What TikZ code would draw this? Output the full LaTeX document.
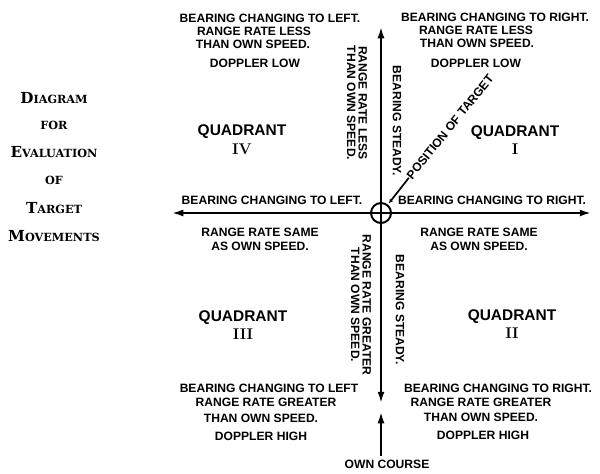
\documentclass[tikz,border=0pt]{standalone}
\usepackage{fontspec}
\usetikzlibrary{arrows.meta}
\newfontfamily\lblfont{Liberation Sans}
\newfontfamily\headfont{DejaVu Serif}
\newcommand{\initcap}[2]{{\fontsize{10.8}{12}\selectfont #1}{\fontsize{8}{12}\selectfont #2}}
\tikzset{
	lbl/.style={font=\lblfont\bfseries\fontsize{8.6}{9.25}\selectfont, align=center, inner sep=0pt},
	vlbl/.style={lbl, rotate=-90, font=\lblfont\bfseries\fontsize{8.6}{8.2}\selectfont},
	quad/.style={font=\lblfont\bfseries\fontsize{11}{12}\selectfont, inner sep=0pt},
	numeral/.style={font=\bfseries\fontsize{11}{12}\selectfont, inner sep=0pt},
	heading/.style={font=\headfont\bfseries, inner sep=0pt},
	axis/.style={line width=1.4pt, -{Latex[length=8pt,width=5pt]}},
	ring/.style={draw, circle, line width=1.4pt, minimum size=0.5cm, inner sep=0pt},
	pointer/.style={line width=1.2pt, -{Latex[length=3pt,width=3pt]}, shorten >=1pt}
}
\begin{document}
\begin{tikzpicture}[x=0.025cm, y=-0.025cm]
			%%%%% START %%%%%
			\useasboundingbox (0,0) rectangle (600,474);
			
			% heading
			\node[heading] (head1) at (54, 98) {\initcap{D}{IAGRAM}};
			\node[heading] (head2) at (54, 125) {\initcap{}{FOR}};
			\node[heading] (head3) at (54, 152) {\initcap{E}{VALUATION}};
			\node[heading] (head4) at (54, 180) {\initcap{}{OF}};
			\node[heading] (head5) at (54, 208) {\initcap{T}{ARGET}};
			\node[heading] (head6) at (54, 236) {\initcap{M}{OVEMENTS}};
			
			% axes
			\node[ring] (ownship) at (381, 213) {};
			\coordinate (west) at (172, 213);
			\coordinate (east) at (591, 213);
			\coordinate (north) at (381, 27);
			\coordinate (south) at (381, 403);
			\draw[axis] (ownship.center) -- (west);
			\draw[axis] (ownship.center) -- (east);
			\draw[axis] (ownship.center) -- (north);
			\draw[axis] (ownship.center) -- (south);
			
			% own course
			\coordinate (courseTail) at (381, 456);
			\coordinate (courseHead) at (381, 412);
			\draw[axis] (courseTail) -- (courseHead);
			\node[lbl] (course) at (387, 464) {OWN COURSE};
			
			% target
			\node[lbl, rotate=51] (target) at (450, 127) {POSITION OF TARGET};
			\draw[pointer] (target.west) -- (ownship.51);
			
			% quadrant IV
			\node[lbl] (nwBearing) at (270, 18) {BEARING CHANGING TO LEFT.};
			\node[lbl] (nwRange) at (254, 31) {RANGE RATE LESS};
			\node[lbl] (nwThan) at (253, 44) {THAN OWN SPEED.};
			\node[lbl] (nwDoppler) at (255, 63) {DOPPLER LOW};
			\node[quad] (nwQuad) at (242, 132) {QUADRANT};
			\node[numeral] (nwNum) at (242, 149) {IV};
			\node[lbl] (wBearing) at (272, 200) {BEARING CHANGING TO LEFT.};
			
			% quadrant I
			\node[lbl] (neBearing) at (495, 17) {BEARING CHANGING TO RIGHT.};
			\node[lbl] (neRange) at (476, 30) {RANGE RATE LESS};
			\node[lbl] (neThan) at (477, 43) {THAN OWN SPEED.};
			\node[lbl] (neDoppler) at (476, 63) {DOPPLER LOW};
			\node[quad] (neQuad) at (515, 133) {QUADRANT};
			\node[numeral] (neNum) at (515, 149) {I};
			\node[lbl] (eBearing) at (492, 200) {BEARING CHANGING TO RIGHT.};
			
			% quadrant III
			\node[lbl] (swSame) at (260, 232) {RANGE RATE SAME};
			\node[lbl] (swAs) at (260, 246) {AS OWN SPEED.};
			\node[quad] (swQuad) at (243, 318) {QUADRANT};
			\node[numeral] (swNum) at (243, 334) {III};
			\node[lbl] (swBearing) at (269, 388) {BEARING CHANGING TO LEFT};
			\node[lbl] (swRange) at (266, 402) {RANGE RATE GREATER};
			\node[lbl] (swThan) at (261, 418) {THAN OWN SPEED.};
			\node[lbl] (swDoppler) at (261, 436) {DOPPLER HIGH};
			
			% quadrant II
			\node[lbl] (seSame) at (479, 232) {RANGE RATE SAME};
			\node[lbl] (seAs) at (479, 246) {AS OWN SPEED.};
			\node[quad] (seQuad) at (512, 317) {QUADRANT};
			\node[numeral] (seNum) at (512, 333) {II};
			\node[lbl] (seBearing) at (498, 388) {BEARING CHANGING TO RIGHT.};
			\node[lbl] (seRange) at (481, 402) {RANGE RATE GREATER};
			\node[lbl] (seThan) at (481, 417) {THAN OWN SPEED.};
			\node[lbl] (seDoppler) at (483, 435) {DOPPLER HIGH};
			
			% along the axis
			\node[vlbl] (nRange) at (357, 103) {RANGE RATE LESS\\THAN OWN SPEED.};
			\node[vlbl] (nSteady) at (397, 121) {BEARING STEADY.};
			\node[vlbl] (sRange) at (361, 305) {RANGE RATE GREATER\\THAN OWN SPEED.};
			\node[vlbl] (sSteady) at (400, 310) {BEARING STEADY.};
			
			%%%%% END %%%%%
\end{tikzpicture}
\end{document}
